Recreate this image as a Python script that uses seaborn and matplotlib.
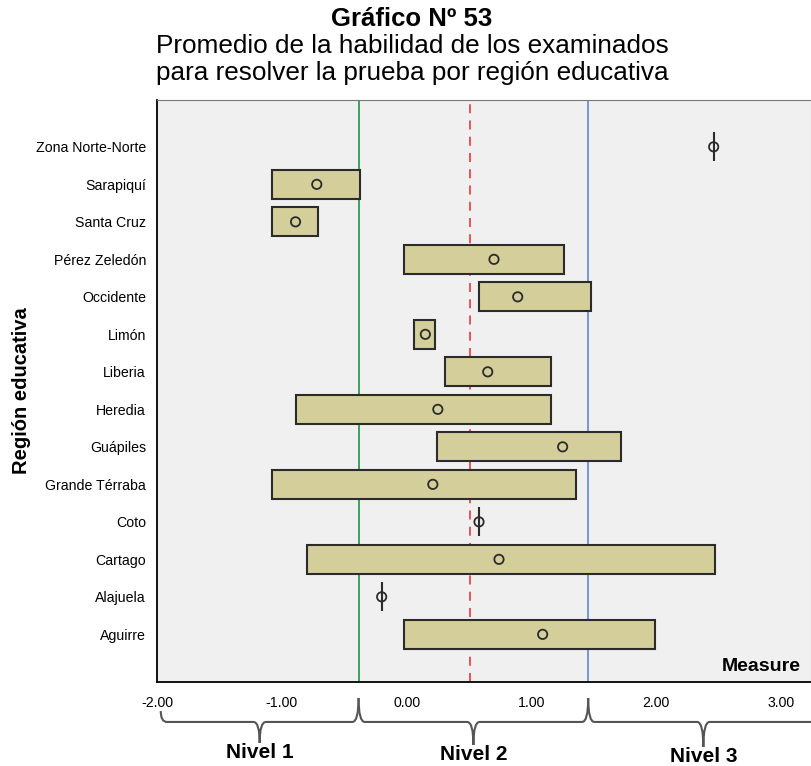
import matplotlib
matplotlib.use('Agg')
import matplotlib.pyplot as plt
import matplotlib.transforms as mtransforms
from matplotlib.path import Path
from matplotlib.patches import PathPatch
import seaborn as sns
import pandas as pd

# data (top to bottom)
regions = ['Zona Norte-Norte', 'Sarapiquí', 'Santa Cruz', 'Pérez Zeledón', 'Occidente',
           'Limón', 'Liberia', 'Heredia', 'Guápiles', 'Grande Térraba', 'Coto',
           'Cartago', 'Alajuela', 'Aguirre']
range_low = [2.46, -1.08, -1.08, -0.02, 0.58, 0.06, 0.31, -0.89, 0.24, -1.08, 0.58, -0.80, -0.20, -0.02]
range_high = [2.46, -0.37, -0.71, 1.26, 1.48, 0.23, 1.16, 1.16, 1.72, 1.36, 0.58, 2.47, -0.20, 1.99]
means = [2.46, -0.72, -0.89, 0.70, 0.89, 0.15, 0.65, 0.25, 1.25, 0.21, 0.58, 0.74, -0.20, 1.09]
level_cuts = [-0.385, 1.455]
overall_mean = 0.506
level_names = ['Nivel 1', 'Nivel 2', 'Nivel 3']
xticks = [-2, -1, 0, 1, 2, 3]

df = pd.DataFrame({'region': regions, 'low': range_low, 'high': range_high, 'mean': means})
df['pos'] = range(len(df) - 1, -1, -1)

sns.set_style('white')
plt.rcParams['font.family'] = ['Liberation Sans', 'DejaVu Sans']
for k in ['text.color', 'axes.labelcolor', 'xtick.color', 'ytick.color']:
    plt.rcParams[k] = 'black'

fig = plt.figure(figsize=(8.11, 7.66), dpi=100)
ax = fig.add_axes([0.1936, 0.1097, 0.8064, 0.7598])
ax.set_facecolor('#f0f0f0')

ax.barh(df['pos'], df['high'] - df['low'], left=df['low'], height=0.77,
        color='#d4cf9a', edgecolor='#2b2b2b', linewidth=1.5, zorder=3)
sns.scatterplot(data=df, x='mean', y='pos', ax=ax, marker='o', s=45,
                facecolor='none', edgecolor='#2b2b2b', linewidth=1.3, zorder=4, legend=False)

ax.axvline(level_cuts[0], color='#2e9a55', lw=1.3, zorder=2)
ax.axvline(overall_mean, color='#e8474a', lw=1.3, ls=(0, (5, 4)), zorder=2)
ax.axvline(level_cuts[1], color='#6f8fd2', lw=1.3, zorder=2)

ax.set_xlim(-2.0, 3.24)
ax.set_ylim(-1.27, len(df) - 1 + 1.25)
ax.set_xticks(xticks)
ax.set_xticklabels(['%.2f' % v for v in xticks], fontsize=10.2)
ax.set_yticks(df['pos'])
ax.set_yticklabels(df['region'], fontsize=10.2)
ax.tick_params(direction='out', length=7, width=1.2, color='black', pad=1)
ax.tick_params(axis='x', pad=3)
ax.set_xlabel('')
ax.set_ylabel('Región educativa', fontsize=14.5, fontweight='bold', labelpad=3)
for s in ['left', 'bottom']:
    ax.spines[s].set_color('black')
    ax.spines[s].set_linewidth(1.3)
ax.spines['top'].set_color('#777777')
ax.spines['right'].set_color('#cccccc')

ax.text(0.985, 0.026, 'Measure', transform=ax.transAxes, ha='right', va='center',
        fontsize=14, fontweight='bold')

fig.text(0.508, 1 - 26 / 766, 'Gráfico Nº 53', ha='center', va='baseline',
         fontsize=18.5, fontweight='bold')
fig.text(0.508, 1 - 53 / 766, 'Promedio de la habilidad de los examinados',
         ha='center', va='baseline', fontsize=18.8)
fig.text(0.508, 1 - 80 / 766, 'para resolver la prueba por región educativa',
         ha='center', va='baseline', fontsize=18.8)

# braces under the axis for the levels
trans = mtransforms.blended_transform_factory(ax.transData, ax.transAxes)
label_trans = mtransforms.blended_transform_factory(ax.transData, fig.transFigure)


def brace(x0, x1, y0, y1, y_tip, y_line=-0.0687, dx=0.05):
    xm = (x0 + x1) / 2
    verts = [(x0, y0), (x0, y_line), (x0 + dx, y_line),
             (xm - dx, y_line),
             (xm, y_line), (xm, y_tip),
             (xm, y_line), (xm + dx, y_line),
             (x1 - dx, y_line),
             (x1, y_line), (x1, y1)]
    codes = [Path.MOVETO, Path.CURVE3, Path.CURVE3, Path.LINETO, Path.CURVE3, Path.CURVE3,
             Path.CURVE3, Path.CURVE3, Path.LINETO, Path.CURVE3, Path.CURVE3]
    ax.add_patch(PathPatch(Path(verts, codes), transform=trans, fill=False,
                           edgecolor='#555555', lw=1.5, clip_on=False))
    return xm


edges = [-1.97] + level_cuts + [3.3]
ends = [-0.05, -0.0275, -0.0275, -0.0275]
tips = [-0.1048, -0.1082, -0.1117]
label_baseline_px = [758, 760, 762]
for i, name in enumerate(level_names):
    xm = brace(edges[i], edges[i + 1], ends[i], ends[i + 1], tips[i])
    fig.text(xm, 1 - label_baseline_px[i] / 766, name, ha='center', va='baseline',
             fontsize=15, fontweight='bold', transform=label_trans)

fig.savefig('out.png', dpi=100)
